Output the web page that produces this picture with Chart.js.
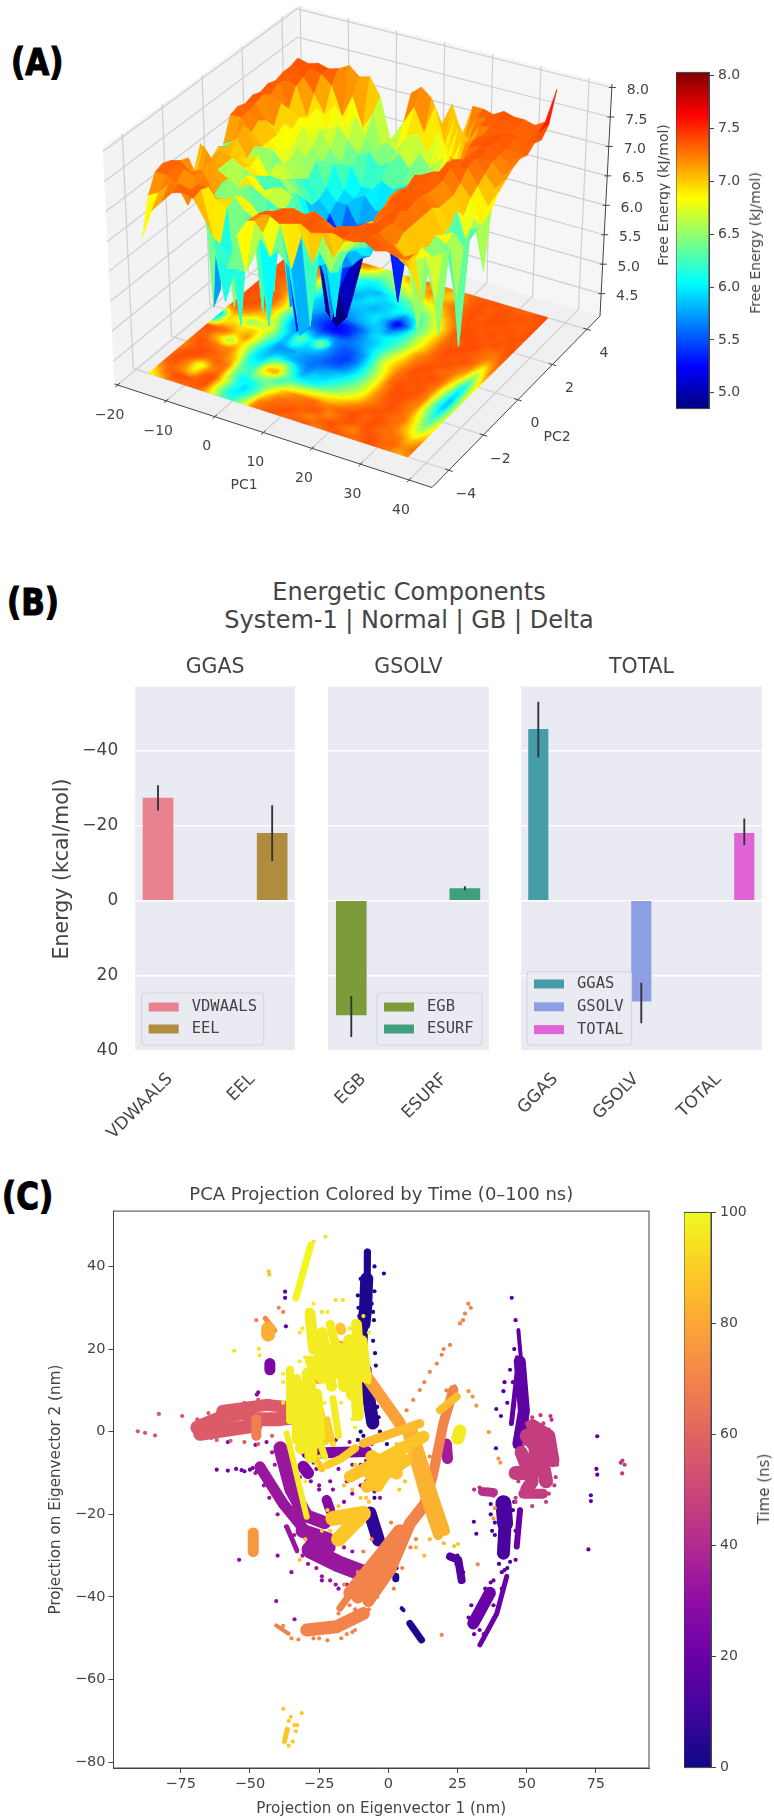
<!DOCTYPE html>
<html>
<head>
<meta charset="utf-8">
<title>Free energy landscape, energetic components and PCA projection</title>
<script src="https://cdn.jsdelivr.net/npm/chart.js@4"></script>
<style>
html, body { margin: 0; background: #fff; }
body { position: relative; width: 774px; height: 1818px; overflow: hidden; font-family: 'DejaVu Sans', sans-serif; }
canvas { position: absolute; }
.tag { position: absolute; font: bold 31px 'DejaVu Sans', sans-serif; color: #000; -webkit-text-stroke: 1px #000; transform: scaleY(1.2); transform-origin: 0 0; }
.note { position: absolute; color: #444; white-space: nowrap; }
.up { transform: translate(-50%, -50%) rotate(-90deg); }
.mid { transform: translateX(-50%); text-align: center; }
</style>
</head>
<body>
<div class="tag" style="left:11px;top:40px">(A)</div>
<div class="tag" style="left:7px;top:580px">(B)</div>
<div class="tag" style="left:2px;top:1174px">(C)</div>

<canvas id="surface" width="670" height="560" style="left:0;top:0"></canvas>
<canvas id="energyBar" width="98" height="361" style="left:676px;top:60px"></canvas>
<div class="note up" style="left:755px;top:243px;font-size:14px">Free Energy (kJ/mol)</div>

<div class="note mid" style="left:409px;top:578px;font-size:24px;line-height:28px">Energetic Components<br>System-1 | Normal | GB | Delta</div>
<canvas id="ggas" width="300" height="530" style="left:0;top:640px"></canvas>
<canvas id="gsolv" width="175" height="530" style="left:327.7px;top:640px"></canvas>
<canvas id="total" width="293" height="530" style="left:480.7px;top:640px"></canvas>

<canvas id="pca" width="680" height="638" style="left:0;top:1180px"></canvas>
<canvas id="timeBar" width="90" height="580" style="left:684px;top:1200px"></canvas>
<div class="note up" style="left:764px;top:1489px;font-size:15px">Time (ns)</div>

<script>
// ---- free energy landscape ----
const pc1Grid = [-17.5, -15.35, -13.2, -11.05, -8.9, -6.75, -4.6, -2.45, -0.3, 1.85, 4, 6.15, 8.3, 10.45, 12.6, 14.75, 16.9, 19.05, 21.2, 23.35, 25.5, 27.65, 29.8, 31.95, 34.1, 36.25];
const pc2Grid = [-4, -3.62, -3.24, -2.86, -2.48, -2.1, -1.71, -1.33, -0.95, -0.57, -0.19, 0.19, 0.57, 0.95, 1.33, 1.71, 2.1, 2.48, 2.86, 3.24, 3.62, 4];
// one row per PC2 value, kJ/mol
const freeEnergyGrid = [
  [6.4,6.9,7.1,7.3,7.35,7.3,7.0,6.4,6.3,6.9,7.2,7.35,7.4,7.3,7.35,7.4,7.3,7.35,7.4,7.35,7.35,7.4,7.3,7.35,7.3,7.3],
  [7.0,7.1,7.3,7.35,7.3,7.35,6.6,5.6,6.2,6.2,7.1,7.3,7.35,7.4,7.3,7.35,7.4,7.3,7.4,7.35,7.3,7.4,7.3,7.35,7.2,7.3],
  [7.3,7.3,7.2,6.9,7.3,7.3,6.4,6.2,6.6,6.3,6.8,7.2,7.3,7.35,7.3,7.4,7.3,7.2,7.3,7.35,7.4,7.35,7.2,7.0,6.9,6.4],
  [7.35,7.3,7.35,7.3,7.35,7.0,6.9,5.0,6.8,6.6,6.3,6.9,6.2,6.8,6.4,6.9,6.6,6.9,7.0,7.3,7.35,7.35,7.1,6.9,5.8,6.9],
  [7.3,7.35,7.2,7.3,6.9,6.9,7.0,6.8,6.7,5.0,6.3,6.1,5.0,5.2,6.5,6.2,6.6,6.8,7.0,7.2,7.35,7.3,7.2,6.8,6.9,6.2],
  [6.9,7.3,6.9,7.35,7.0,5.0,6.9,6.8,6.6,6.4,6.2,4.9,5.2,6.1,6.2,6.1,6.5,6.7,6.9,7.3,7.35,7.4,7.2,6.9,6.8,6.9],
  [7.0,6.9,7.35,7.1,7.0,6.9,7.0,4.9,6.7,6.6,6.1,6.2,6.0,6.3,5.2,6.4,6.5,6.9,7.0,7.3,7.35,7.3,7.2,6.8,5.4,6.9],
  [6.8,7.3,7.0,7.1,5.2,7.0,6.8,6.7,6.6,5.0,5.2,6.0,6.1,5.0,6.2,6.3,6.6,6.8,7.1,7.35,7.4,7.35,7.2,6.9,6.8,5.9],
  [7.2,7.0,7.2,7.1,7.0,6.9,6.7,6.8,6.5,6.2,6.1,5.9,5.4,6.0,6.1,6.2,6.5,6.8,7.2,7.35,7.3,7.35,7.2,6.8,6.9,6.7],
  [4.3,7.1,6.9,7.0,6.9,6.8,4.9,6.7,6.6,6.0,5.9,5.7,5.8,5.9,6.0,6.1,6.6,6.7,7.2,7.3,7.4,7.3,7.1,6.8,4.9,6.9],
  [4.5,7.0,7.2,6.9,7.0,6.7,6.7,6.5,6.3,5.9,6.1,5.6,5.5,5.6,5.8,6.1,6.2,6.8,7.1,7.4,7.3,7.3,7.1,7.0,6.5,6.8],
  [6.9,7.0,7.3,7.0,5.3,6.8,6.6,6.4,5.9,5.7,5.0,5.0,5.4,5.6,5.7,6.3,6.2,6.9,6.9,7.3,7.4,7.3,7.1,6.8,6.8,6.0],
  [7.3,7.3,7.1,6.9,6.9,6.7,6.5,6.2,5.7,4.4,4.2,4.4,5.4,5.6,5.8,5.9,6.5,6.6,7.0,6.9,7.3,7.4,7.2,7.0,6.6,6.9],
  [7.35,7.3,7.2,6.9,6.8,6.7,6.4,6.0,5.6,4.6,4.4,4.7,5.4,5.7,5.7,6.1,6.3,6.6,6.8,7.1,7.35,7.3,7.35,7.1,6.8,7.1],
  [7.3,7.35,7.1,6.9,6.7,6.8,6.3,6.0,5.8,5.5,5.3,5.5,5.6,5.5,5.6,5.7,6.3,6.5,6.9,6.9,7.3,7.35,7.4,7.2,7.0,7.2],
  [7.35,7.4,6.9,7.0,6.7,6.5,6.5,6.1,5.9,5.9,5.6,5.7,5.8,5.6,4.5,5.6,6.0,6.7,6.7,7.2,7.1,7.35,7.3,7.3,7.1,7.3],
  [7.3,7.3,7.2,6.8,6.9,6.6,6.4,6.4,6.0,5.9,6.0,5.8,5.8,5.9,5.6,5.9,6.4,6.5,7.0,6.9,7.3,7.35,7.4,7.3,7.2,7.35],
  [7.35,7.4,7.0,6.9,6.7,6.8,6.5,6.3,6.3,6.0,6.0,6.2,6.1,6.2,6.3,6.2,6.7,6.9,6.7,7.2,7.35,7.4,7.35,7.3,7.3,7.3],
  [7.3,7.35,7.3,6.8,7.0,6.7,6.8,6.6,6.4,6.5,6.3,6.4,6.6,6.4,6.7,6.5,6.9,6.7,7.1,7.0,7.3,7.35,7.4,7.35,7.3,7.4],
  [7.35,7.35,7.35,7.1,6.8,7.0,6.7,6.9,6.6,6.4,6.6,6.5,6.8,6.9,6.6,7.0,6.7,7.2,7.0,7.3,7.35,7.3,7.35,7.3,7.35,7.35],
  [7.35,7.35,7.4,7.35,7.2,6.7,7.1,6.6,6.9,6.2,6.6,6.9,7.2,6.8,7.3,6.7,7.2,6.9,7.3,7.35,7.35,7.4,7.3,7.35,7.3,7.5],
  [7.4,7.35,7.4,7.35,7.4,7.5,7.35,7.4,7.1,6.4,6.3,7.3,7.45,7.3,6.9,7.3,6.8,7.35,7.35,7.3,7.4,7.35,7.35,7.3,7.4,8.0]
];
// filled contour projected on the floor
const floorContourGrid = [
  [6.7,7.0,7.3,7.3,7.35,7.3,6.9,6.3,6.2,6.6,7.25,7.35,7.4,7.3,7.35,7.4,7.25,7.3,7.4,7.35,7.3,7.4,7.35,7.25,7.1,7.2],
  [7.0,7.3,7.4,7.4,7.35,7.4,6.7,6.1,6.0,6.4,7.2,7.3,7.35,7.4,7.3,7.2,7.35,7.4,7.3,7.2,7.35,7.4,7.3,7.35,7.2,7.3],
  [7.3,7.35,7.2,6.9,7.35,7.4,6.8,6.2,5.9,6.2,6.9,7.25,7.3,7.3,7.35,7.4,7.2,7.3,7.4,7.35,7.4,7.3,7.3,7.25,7.0,7.2],
  [7.35,7.4,7.2,6.7,7.2,7.3,6.5,6.0,6.1,6.3,6.6,7.0,7.2,7.25,7.3,7.2,7.3,7.35,7.4,7.3,7.4,7.35,7.25,7.0,6.7,7.0],
  [7.3,7.4,7.4,7.3,7.35,7.25,6.4,6.2,6.6,6.5,6.2,6.5,6.6,6.7,6.8,6.9,7.0,7.2,7.3,7.4,7.35,7.3,7.3,6.9,6.4,6.9],
  [7.2,7.35,7.4,7.35,7.25,7.0,6.2,6.1,7.0,7.2,6.4,6.0,6.0,6.1,6.3,6.5,6.7,6.9,7.2,7.3,7.4,7.35,7.2,6.7,6.2,6.8],
  [7.3,7.4,7.3,7.2,7.2,6.7,6.0,5.9,6.5,6.6,6.1,5.7,5.9,5.9,6.1,6.3,6.5,6.8,7.2,7.35,7.4,7.3,7.2,6.5,6.0,6.7],
  [7.35,7.3,7.0,6.5,7.0,6.6,6.0,5.8,5.9,5.8,5.7,5.6,5.7,5.8,5.9,6.1,6.4,6.8,7.2,7.4,7.4,7.35,7.25,6.4,5.8,6.7],
  [7.4,7.35,7.3,7.0,7.2,6.7,6.1,5.7,5.7,5.8,5.7,5.6,5.5,5.5,5.7,6.0,6.4,6.8,7.3,7.4,7.35,7.4,7.2,6.5,5.8,6.7],
  [6.0,6.9,7.0,6.9,7.0,6.7,6.3,5.8,6.2,5.9,5.9,5.7,5.5,5.4,5.6,6.0,6.5,6.9,7.3,7.35,7.4,7.35,7.25,6.6,5.9,6.8],
  [5.8,7.0,6.8,6.5,6.6,6.8,6.2,5.8,6.4,6.0,6.6,5.7,5.5,5.5,5.7,6.1,6.7,7.0,7.25,7.4,7.35,7.4,7.3,6.8,6.0,6.9],
  [7.2,7.3,7.2,7.0,7.0,6.5,5.9,5.7,5.8,5.6,5.7,5.6,5.6,5.7,5.9,6.2,6.6,6.9,7.2,7.35,7.4,7.3,7.3,7.0,6.3,7.0],
  [7.35,7.4,7.35,7.2,6.9,6.3,5.8,5.6,5.5,5.3,5.2,5.3,5.6,5.8,5.9,6.1,6.4,6.8,7.2,7.3,7.35,7.4,7.3,7.2,6.6,7.2],
  [7.4,7.35,7.4,7.3,7.0,6.4,5.9,5.7,5.5,5.3,5.3,5.4,5.6,5.9,6.0,6.1,6.3,6.7,7.0,7.3,7.4,7.35,7.4,7.3,6.9,7.3],
  [7.4,7.4,7.35,7.3,6.9,6.3,5.9,5.8,5.6,5.6,5.7,5.8,5.9,5.9,5.6,5.9,6.3,6.7,7.0,7.3,7.4,7.4,7.35,7.3,7.2,7.35],
  [7.4,7.4,7.35,7.2,6.7,6.2,5.9,5.8,5.8,5.8,5.8,5.9,6.0,5.7,5.1,5.6,6.3,6.6,7.0,7.3,7.35,7.4,7.4,7.3,7.3,7.4],
  [7.4,7.35,7.3,7.2,6.9,6.4,6.0,5.9,5.8,5.9,5.9,5.8,5.9,6.0,5.7,6.0,6.4,6.7,7.0,7.35,7.4,7.4,7.35,7.4,7.35,7.4],
  [7.35,7.4,7.35,7.3,7.0,6.6,6.2,6.0,5.8,5.8,6.0,5.9,5.9,6.1,6.2,6.3,6.6,6.9,7.2,7.35,7.4,7.35,7.4,7.35,7.4,7.35],
  [7.4,7.35,7.4,7.3,7.2,6.8,6.4,6.1,6.0,5.9,5.8,6.0,6.2,6.3,6.5,6.7,6.9,7.2,7.3,7.4,7.35,7.4,7.35,7.4,7.35,7.4],
  [7.35,7.4,7.35,7.3,7.2,7.0,6.7,6.3,6.1,6.0,6.2,6.4,6.6,6.8,7.0,7.0,7.2,7.3,7.35,7.4,7.35,7.4,7.4,7.35,7.35,7.4],
  [7.4,7.35,7.4,7.35,7.3,7.2,7.0,6.8,6.6,6.4,6.5,6.8,6.9,7.0,7.25,7.0,7.0,7.2,7.35,7.4,7.35,7.4,7.35,7.4,7.35,7.4],
  [7.4,7.35,7.4,7.35,7.4,7.4,7.3,7.3,7.0,6.6,6.5,7.2,7.35,7.3,7.0,7.25,7.0,7.3,7.35,7.35,7.4,7.35,7.35,7.3,7.4,7.4]
];
const pc1Ticks = [-20, -10, 0, 10, 20, 30, 40];
const pc2Ticks = [-4, -2, 0, 2, 4];
const zTicks = [4.5, 5, 5.5, 6, 6.5, 7, 7.5, 8];
const energyBarTicks = [5, 5.5, 6, 6.5, 7, 7.5, 8];

// ---- energetic components (kcal/mol, negative is up) ----
const ggasNames = ['VDWAALS', 'EEL'];
const ggasValues = [-27.3, -17.9];
const ggasErrors = [[-30.6, -24.1], [-25.3, -10.6]];
const gsolvNames = ['EGB', 'ESURF'];
const gsolvValues = [30.5, -3.2];
const gsolvErrors = [[25.5, 36.3], [-3.7, -2.8]];
const totalNames = ['GGAS', 'GSOLV', 'TOTAL'];
const totalValues = [-45.6, 26.8, -17.9];
const totalErrors = [[-52.9, -38.2], [22, 32.6], [-21.8, -14.9]];
const energyTicks = [-40, -20, 0, 20, 40];

// ---- PCA projection: dense strands and loose frames, coloured by time (ns) ----
const strandTimes = [3, 3, 4, 5, 5, 6, 4, 4, 4, 12, 12, 14, 17, 17, 18, 20, 20, 20, 25, 25, 25, 28, 33, 33, 33, 33, 33, 33, 33, 35, 42, 47, 47, 47, 47, 47, 47, 57, 57, 57, 57, 68, 70, 70, 70, 70, 70, 70, 70, 72, 76, 78, 80, 80, 82, 83, 83, 85, 86, 87, 87, 88, 88, 88, 88, 88, 88, 88, 90, 90, 97, 97, 97, 97, 97, 97, 97, 97, 97, 97, 97, 97, 97, 97, 97, 97, 97, 99, 97, 97, 97, 90];
const strandPaths = [
  [[-7.5, 43.5], [-7.6, 38]],
  [[-7.8, 37], [-8.2, 30], [-8.8, 26]],
  [[-9.3, 26], [-9.5, 20]],
  [[-8, 15], [-8.6, 8]],
  [[-7.7, 10.8], [-5.6, 2.1]],
  [[-6.6, -19.7], [-3.6, -26.2]],
  [[7.8, -46.4], [12, -50.4]],
  [[4.8, -42.7], [5.5, -43.2]],
  [[2.7, -35], [2.7, -35.6]],
  [[41.6, -17.3], [42.2, -22.2]],
  [[42.2, -22.2], [41.6, -29.4]],
  [[22.3, -30.2], [25.3, -31], [26.5, -35.9]],
  [[47, 24.6], [48, 17]],
  [[47.5, 17], [49, 5], [47, -3]],
  [[46.5, 14], [44.5, 2]],
  [[47.6, -19], [46.4, -27.8]],
  [[42.8, -35], [39.2, -44], [33.1, -51.6]],
  [[36.7, -39], [30.7, -46.4]],
  [[-29.5, -5.2], [-7.8, -4.8]],
  [[-42.8, 16.5], [-42.8, 15]],
  [[-30.7, -8.5], [-29, -10]],
  [[-22.3, -16.5], [-21, -19]],
  [[-39, -4], [-35, -14], [-30, -20]],
  [[-46.4, -8.5], [-38, -17.4], [-30, -24]],
  [[-31, -20], [-23, -22]],
  [[-31, -24], [-22, -26]],
  [[-28, -27], [-21, -28]],
  [[-28.3, -28.6], [-18, -32], [-9, -34.3]],
  [[-36.7, -23], [-33.1, -28.6]],
  [[21, -3], [21.4, -6.5]],
  [[34, -14.5], [38, -14.7]],
  [[52, 1.5], [58, -1], [59.5, -7]],
  [[50, -1], [55, -5], [57, -12]],
  [[48, -5], [52, -12], [50, -14]],
  [[54, 0], [53, -8]],
  [[48.8, -15], [55.9, -15]],
  [[46, -10], [52, -10]],
  [[-69, 1], [-60, 3.5], [-50, 5]],
  [[-68, -0.5], [-58, 0.5], [-48, 1.5]],
  [[-60, 5], [-44, 6.5], [-37, 6]],
  [[-50, 3], [-40, 3], [-34, 3.5]],
  [[-47.7, 3], [-47.7, -1]],
  [[-13.9, -39], [-3, -30], [4, -24]],
  [[-11, -40], [-1, -31], [6, -24]],
  [[-7.2, -41], [0.6, -33.5], [7.8, -22.2], [12.7, -18]],
  [[12.7, -18], [16, -10.9], [19.9, 2], [23.5, 10.1]],
  [[-17.5, -42.7], [-9, -35]],
  [[-29.5, -48], [-18.7, -47.2], [-9, -44]],
  [[-40.5, -46.9], [-36, -48.9]],
  [[-44.5, 27.5], [-41, 24.5]],
  [[-48.8, -24.5], [-48.8, -29]],
  [[-7.8, 13.3], [4.2, 2]],
  [[-17.5, 20.6], [-16, 17]],
  [[-27, 15.3], [-25.5, 13]],
  [[-43.4, 25], [-43.4, 23.5]],
  [[6.6, 0.4], [13, -15], [18, -25]],
  [[9, 0], [16, -15], [20.5, -24]],
  [[-9, -2.8], [11.4, 2]],
  [[18.7, 5.2], [24.7, 8.5]],
  [[-13.9, -10.9], [12.7, -1.2]],
  [[-7.8, -13.3], [6.6, -6.9]],
  [[-7, -10], [2, -6]],
  [[-6, -6], [3, -10]],
  [[-4, -13], [5, -4]],
  [[-20, -21], [-9, -19.8], [-18, -26]],
  [[-36.5, -72], [-37.5, -75]],
  [[-17.3, 25.2], [-17, 24.6]],
  [[-26, -7], [-24, -9]],
  [[-22, -8], [-17, -6.5], [-12, -4]],
  [[-25, 5], [-23, -2]],
  [[-35.5, 15], [-35.5, 2.8]],
  [[-36.7, -0.4], [-29.5, -20.6]],
  [[-32, 11], [-31, 1], [-31.5, -4]],
  [[-29, 14], [-27.5, 4], [-28, -6]],
  [[-26, 9], [-25, -1]],
  [[-28, 17], [-24, 13]],
  [[-25, 19], [-21, 13]],
  [[-22, 20], [-19, 14]],
  [[-24, 24], [-20.5, 11]],
  [[-21, 26], [-18, 18]],
  [[-17, 20], [-16, 11]],
  [[-14, 22], [-13, 9]],
  [[-12, 16], [-11, 4]],
  [[-11.5, 26], [-10.5, 16]],
  [[-9.5, 22], [-8, 13]],
  [[-28.3, 28.7], [-27, 20]],
  [[25.9, 0.2], [25.1, -1.6]],
  [[-28, 45.2], [-33.4, 32.4]],
  [[-20, 8], [-18, -1]],
  [[-33, 13], [-33.5, -2]],
  [[-25, -2], [-23, -6]],
  [[-22, 3], [-20, -3]]
];
const frameTimes = [3, 12, 15, 18, 20, 22, 28, 30, 33, 42, 45, 47, 55, 57, 70, 72, 75, 85, 88, 95, 97];
const frameCoords = [
  [[-7.5, 36.4], [-1.6, 38.3], [-5, 34], [-10.8, 30], [-5.5, 29], [-4.5, 16], [-5, 9], [-3, 0], [-0.5, -3], [-5, -16], [-2, -29], [3, -33], [2.5, -35], [-11, 33], [-5, 40], [-10.5, 28], [-5.2, 27], [-6, 31], [-10, 37], [-11, 20], [-5.5, 22], [-4.8, 19], [-11.5, 12], [-4, 6], [-3.5, 3.5], [-10, 0], [-11, -2], [-9, -1]],
  [[38.9, -4], [30.9, -21.8], [31.8, -24.7], [25, -30], [26.4, -36], [24.6, -32], [27, -34], [44, -31.5], [38.5, -25], [37, -20], [38.5, -22], [37.5, -24], [45, -19], [46, -24], [40, -32], [43, -33], [42, -33.5], [37, -17.5], [45.5, -17]],
  [[-37.3, 33.9], [-37.3, 32.4], [-37, 25.5], [41.6, 9.8], [40.7, 3.8], [39, 5.5], [42, 12], [43, 7], [44, 15], [45.5, 20]],
  [[44.6, 32.4], [46, 27], [75.5, -1.1], [75.2, -9], [75.5, -10.4], [73.2, -15.4], [73.2, -16.8], [46.5, 18], [45, 12], [50, 3]],
  [[72.3, -28.5], [32, -44], [33, -48], [35, -38], [38, -36], [41, -34], [46, -31], [49, -10], [35, -40], [37, -36.5], [33, -43], [30, -42], [29, -45], [31, -49], [38, -42], [41, -38], [34.5, -49]],
  [[-62, -9.2], [-58, -9.4], [-55, -9], [-53, -9.3], [-50, -9.2], [-47.5, -9.6], [-52, -9.6], [-49, -8.8]],
  [[-58, -2.5], [-48, -3.2], [-44, -2.5], [-47.5, 9], [-25, -13], [-20, -14], [-16, -17], [-13, -15], [-9, -10], [-32, -11], [-27, -7.5], [-22, -8], [-18, -9], [-13, -8], [-8, -7], [-6, -3], [-24, -2.5], [-19, -2], [-14, -2.5], [-10, -8], [-28, -12], [-25, -14], [-23, -21], [-19.5, -21], [-26, -9], [-21, -12], [-15, -12], [-10, -13], [-8, -12], [-5, -14.5], [-3, -16]],
  [[-33.9, -45.4], [-40.5, -41], [-53.9, -31], [-47, 9.5], [-40, -30], [-35, -34], [-24, -36], [-18, -38]],
  [[-48, -10], [-45, -13], [-43, -16], [-40, -20], [-37, -23], [-34, -25], [-33, -29], [-31, -30], [-29, -32], [-26, -33], [-24, -35], [-21, -36], [-19, -37], [-15, -37], [-11, -37.5], [-13, -29], [-16, -28], [-20, -28.5], [-42, -5], [-41, -8], [-36, -19], [-32, -20], [-34, -18]],
  [[58.6, 3.8], [59, 2.9], [36, -14], [38, -15.5], [31, -14], [33, -13.5]],
  [[84, -7.5], [85.4, -8], [84.5, -10.1], [84.6, -7]],
  [[60, -5], [61, -8], [60.5, -11], [59, -2], [48, -6], [47, -12], [57, -17], [52, -18], [46, -16], [58, -15], [46, -17], [50, 2], [55, 4], [52, 3.5], [58, 0.5], [47, -9], [49, -3], [60, -13], [56, 2]],
  [[-90.5, 0.1], [-87.9, -0.3], [-84.3, -0.9], [-82.9, 4.3], [-74.5, 3.8]],
  [[-70, 1], [-69, 3], [-69, -1], [-65, 4.5], [-60, 5.5], [-52, 7], [-47, 7.7], [-43, 7.5], [-38, 7], [-35, 6.5], [-32, 1], [-33, 5], [-62, -2], [-57, -2.2], [-52, -2.5], [-47, -3], [-42, -1], [-64, -1.5], [-66, 3], [-55, 6], [-31, 4]],
  [[19.3, -49.2], [32.3, -32.1], [-47.7, 27], [-39.6, 30], [-38, 29], [6.6, 5.2], [9, 7.7], [11.4, 10.1], [15, 14.5], [17.5, 16.5], [19.3, 18.6], [22.3, 21], [25.9, 26.2], [27.7, 28.6], [28.9, 31], [27, 27], [20, 20], [13, 12], [29.8, 30], [-18, -44], [-14, -42], [-12, -43], [-7, -43], [-4, -40], [2, -38], [5, -33], [8, -28], [10, -26], [-3, -33], [-11, -34], [-27, -50], [-22, -50.5], [-17, -50], [-13, -48.5], [13, -14], [15, -6], [19, 6], [21, 10], [24, 11], [-16, -37], [-6, -26], [1, -22], [-9, -29]],
  [[-38, -47], [-35, -50], [-32.5, -50.3], [-25, -50], [-15, -49], [-12, -48]],
  [[29, 9.8], [31.8, 6.3], [36.3, -0.1], [30.5, 8.5], [39.8, -6.5], [40.5, -7.5], [38.5, -18.5], [38, -21]],
  [[-32, -31], [13, -30], [-30, -26], [10, -28], [15, -26], [20, -27]],
  [[-43.2, 38.8], [-43, 38], [23.8, -27.7], [25.2, -27.2], [-37.9, -67.1], [-31.3, -68.1], [-35.2, -69], [-33.4, -72.5], [-32.9, -71], [-36, -76], [-34.5, -75], [-36, -70], [-34, -71], [-3, -14], [-8, -16], [-5, -11], [0, -11], [4, -14], [6, -12], [8, -5], [-13, -14], [-16, -13], [-11, -19], [-7, -17], [-18, -18], [-22, -19], [-24, -24], [-2, -2], [3, -3], [9, -3], [-12, -8], [-10, -16], [-14, -23], [-21, -24]],
  [[-55.7, 19.6], [-46.8, 20.1], [-19, 31.9], [-16.4, 31.9], [-29, 29.5], [-22.7, 47.2], [-27, 46], [-24, 29], [-32, 24], [-46.5, 18.5], [-38, 12], [-38, 7]],
  [[-34, 8], [-33, -2], [-30, -12], [-26, -8], [-23, 7], [-22, 16], [-19, 22], [-14, 25], [-9, 28], [-7, 24], [-8, 18], [-7, 12], [-13, 3], [-17, 7], [-19, 4], [-20, -3], [-25, -6], [-31, 25], [-27, 31], [-22, 29], [-32, 17], [-38, 14], [-20, 6], [-24, -4], [-30, 18], [-33, 4], [-12, 1]]
];
const eigen1Ticks = [-75, -50, -25, 0, 25, 50, 75];
const eigen2Ticks = [-80, -60, -40, -20, 0, 20, 40];
const timeTicks = [0, 20, 40, 60, 80, 100];

// ---- shared styling ----
const FONT = "'DejaVu Sans', sans-serif";
const TEXT = '#444';
Chart.defaults.font.family = FONT;
Chart.defaults.color = TEXT;
Chart.defaults.animation = false;
Chart.defaults.responsive = false;
Chart.defaults.plugins.legend.display = false;
Chart.defaults.plugins.tooltip.enabled = false;

const JET = ['#00007f', '#0000ff', '#007fff', '#00ffff', '#7fff7f', '#ffff00', '#ff7f00', '#ff0000', '#7f0000'];
const PLASMA = ['#0d0887', '#41049d', '#6a00a8', '#8f0da4', '#b12a90', '#cc4778', '#e16462', '#f2844b', '#fca636', '#fcce25', '#f0f921'];

function hexToRgb(h) {
    return [1, 3, 5].map(i => parseInt(h.substr(i, 2), 16));
}
function sampleMap(stops, f) {
    f = Math.min(1, Math.max(0, f));
    const p = f * (stops.length - 1), i = Math.min(stops.length - 2, Math.floor(p));
    const a = hexToRgb(stops[i]), b = hexToRgb(stops[i + 1]);
    const c = a.map((v, k) => Math.round(v + (b[k] - v) * (p - i)));
    return `rgb(${c[0]},${c[1]},${c[2]})`;
}

// ---- 3D box of the surface plot, laid out on a flat view plane ----
const PC1_LIM = [-20.65, 44.73], PC2_LIM = [-4.98, 4.756], Z_LIM = [4.12, 8.06];
const VIEW_W = 670, VIEW_H = 560;
// corners: (pc1 min, pc2 min), (pc1 max, pc2 min), (pc1 max, pc2 max), (pc1 min, pc2 max)
const FLOOR = [[114.5, 384], [432, 487.5], [600, 316], [301, 228.6]];
const CEILING = [[102.7, 148], [432, 241], [612, 84], [297, 5.4]];

function bilinear(q, u, v) {
    const px = k => q[0][k] * (1 - u) * (1 - v) + q[1][k] * u * (1 - v) + q[2][k] * u * v + q[3][k] * (1 - u) * v;
    return [px(0), px(1)];
}
function project(x, y, z) {
    const u = (x - PC1_LIM[0]) / (PC1_LIM[1] - PC1_LIM[0]);
    const v = (y - PC2_LIM[0]) / (PC2_LIM[1] - PC2_LIM[0]);
    const w = (z - Z_LIM[0]) / (Z_LIM[1] - Z_LIM[0]);
    const a = bilinear(FLOOR, u, v), b = bilinear(CEILING, u, v);
    return { x: a[0] + (b[0] - a[0]) * w, y: a[1] + (b[1] - a[1]) * w };
}
function jetColor(z) {
    return sampleMap(JET, (z - 4.85) / (8.03 - 4.85));
}

const surfacePoints = [], floorPoints = [];
freeEnergyGrid.forEach((row, j) => row.forEach((z, i) => {
    surfacePoints.push(project(pc1Grid[i], pc2Grid[j], z));
    floorPoints.push(project(pc1Grid[i], pc2Grid[j], Z_LIM[0]));
}));

function polygon(ctx, pts) {
    ctx.beginPath();
    pts.forEach((p, i) => i ? ctx.lineTo(p.x, p.y) : ctx.moveTo(p.x, p.y));
    ctx.closePath();
}

const surfacePainter = {
    id: 'surfacePainter',
    beforeDatasetsDraw(chart) {
        const ctx = chart.ctx, sx = chart.scales.x, sy = chart.scales.y;
        const toPx = p => ({ x: sx.getPixelForValue(p.x), y: sy.getPixelForValue(p.y) });
        const at = (x, y, z) => toPx(project(x, y, z));
        const [x0, x1] = PC1_LIM, [y0, y1] = PC2_LIM, [z0, z1] = Z_LIM;

        ctx.save();
        // panes
        ctx.fillStyle = '#f3f3f3';
        polygon(ctx, [at(x0, y0, z0), at(x0, y1, z0), at(x0, y1, z1), at(x0, y0, z1)]); ctx.fill();
        ctx.fillStyle = '#f6f6f6';
        polygon(ctx, [at(x0, y1, z0), at(x1, y1, z0), at(x1, y1, z1), at(x0, y1, z1)]); ctx.fill();
        ctx.fillStyle = '#f0f0f0';
        polygon(ctx, [at(x0, y0, z0), at(x1, y0, z0), at(x1, y1, z0), at(x0, y1, z0)]); ctx.fill();

        // grid lines on the three panes
        const seg = (a, b) => { ctx.beginPath(); ctx.moveTo(a.x, a.y); ctx.lineTo(b.x, b.y); ctx.stroke(); };
        ctx.strokeStyle = '#cfcfcf';
        ctx.lineWidth = 1.2;
        pc1Ticks.forEach(t => { seg(at(t, y0, z0), at(t, y1, z0)); seg(at(t, y1, z0), at(t, y1, z1)); });
        pc2Ticks.forEach(t => { seg(at(x0, t, z0), at(x1, t, z0)); seg(at(x0, t, z0), at(x0, t, z1)); });
        zTicks.forEach(t => { seg(at(x0, y0, t), at(x0, y1, t)); seg(at(x0, y1, t), at(x1, y1, t)); });

        // axis lines and ticks
        ctx.strokeStyle = '#444';
        ctx.lineWidth = 1;
        seg(at(x0, y0, z0), at(x1, y0, z0));
        seg(at(x1, y0, z0), at(x1, y1, z0));
        seg(at(x1, y1, z0), at(x1, y1, z1));
        pc1Ticks.forEach(t => seg(at(t, y0 - 0.12, z0), at(t, y0 + 0.12, z0)));
        pc2Ticks.forEach(t => seg(at(x1 - 0.8, t, z0), at(x1 + 0.8, t, z0)));
        zTicks.forEach(t => { const p = at(x1, y1, t); seg({ x: p.x - 3, y: p.y }, { x: p.x + 4, y: p.y }); });

        // floor contour, smoothed inside every grid cell
        const nx = pc1Grid.length, ny = pc2Grid.length;
        const floorMeta = chart.getDatasetMeta(1).data;
        const SUB = 4;
        ctx.lineWidth = 0.7;
        for (let j = ny - 2; j >= 0; j--) {
            for (let i = 0; i < nx - 1; i++) {
                const a = floorContourGrid[j][i], b = floorContourGrid[j][i + 1];
                const c = floorContourGrid[j + 1][i + 1], d = floorContourGrid[j + 1][i];
                const pa = floorMeta[j * nx + i], pb = floorMeta[j * nx + i + 1];
                const pc = floorMeta[(j + 1) * nx + i + 1], pd = floorMeta[(j + 1) * nx + i];
                const mix = (u, v) => ({
                    x: pa.x * (1 - u) * (1 - v) + pb.x * u * (1 - v) + pc.x * u * v + pd.x * (1 - u) * v,
                    y: pa.y * (1 - u) * (1 - v) + pb.y * u * (1 - v) + pc.y * u * v + pd.y * (1 - u) * v
                });
                for (let s = 0; s < SUB; s++) {
                    for (let r = 0; r < SUB; r++) {
                        const u = (s + 0.5) / SUB, v = (r + 0.5) / SUB;
                        const val = a * (1 - u) * (1 - v) + b * u * (1 - v) + c * u * v + d * (1 - u) * v;
                        ctx.fillStyle = ctx.strokeStyle = jetColor(val);
                        polygon(ctx, [mix(s / SUB, r / SUB), mix((s + 1) / SUB, r / SUB), mix((s + 1) / SUB, (r + 1) / SUB), mix(s / SUB, (r + 1) / SUB)]);
                        ctx.fill();
                        ctx.stroke();
                    }
                }
            }
        }

        // surface cells painted from the far corner towards the viewer
        const surfMeta = chart.getDatasetMeta(0).data;
        ctx.lineWidth = 0.6;
        for (let i = 0; i < nx - 1; i++) {
            for (let j = ny - 2; j >= 0; j--) {
                const z = (freeEnergyGrid[j][i] + freeEnergyGrid[j][i + 1] + freeEnergyGrid[j + 1][i] + freeEnergyGrid[j + 1][i + 1]) / 4;
                ctx.fillStyle = ctx.strokeStyle = jetColor(z);
                polygon(ctx, [surfMeta[j * nx + i], surfMeta[j * nx + i + 1], surfMeta[(j + 1) * nx + i + 1], surfMeta[(j + 1) * nx + i]]);
                ctx.fill();
                ctx.stroke();
            }
        }

        // tick labels and axis names
        ctx.fillStyle = TEXT;
        ctx.font = `14px ${FONT}`;
        ctx.textAlign = 'center';
        ctx.textBaseline = 'middle';
        const minus = s => String(s).replace('-', '\u2212');
        pc1Ticks.forEach(t => { const p = at(t, y0, z0); ctx.fillText(minus(t), p.x - 8, p.y + 30); });
        pc2Ticks.forEach(t => { const p = at(x1, t, z0); ctx.fillText(minus(t), p.x + 17, p.y + 24); });
        zTicks.forEach(t => { const p = at(x1, y1, t); ctx.fillText(t.toFixed(1), p.x + 26, p.y + 3); });
        ctx.fillText('PC1', 244, 485);
        ctx.fillText('PC2', 557, 437);
        ctx.translate(664, 195);
        ctx.rotate(-Math.PI / 2);
        ctx.fillText('Free Energy (kJ/mol)', 0, 0);
        ctx.restore();
    }
};

new Chart(document.getElementById('surface'), {
    type: 'scatter',
    data: {
        datasets: [
            { label: 'surface', data: surfacePoints, pointRadius: 0 },
            { label: 'floor', data: floorPoints, pointRadius: 0 }
        ]
    },
    options: {
        layout: { padding: 0 },
        scales: {
            x: { type: 'linear', display: false, min: 0, max: VIEW_W },
            y: { type: 'linear', display: false, min: 0, max: VIEW_H, reverse: true }
        }
    },
    plugins: [surfacePainter]
});

// ---- colour bars ----
function colorBar(id, stops, lo, hi, ticks, fmt, topPad, bottomPad, plotW) {
    const canvas = document.getElementById(id);
    new Chart(canvas, {
        type: 'bar',
        data: {
            labels: [''],
            datasets: [{
                data: [[lo, hi]],
                barPercentage: 1,
                categoryPercentage: 1,
                borderWidth: 0,
                backgroundColor(c) {
                    const area = c.chart.chartArea;
                    if (!area) return stops[0];
                    const g = c.chart.ctx.createLinearGradient(0, area.bottom, 0, area.top);
                    stops.forEach((s, i) => g.addColorStop(i / (stops.length - 1), s));
                    return g;
                }
            }]
        },
        options: {
            layout: { padding: { top: topPad, bottom: bottomPad } },
            scales: {
                x: { display: false },
                y: {
                    position: 'right',
                    min: lo,
                    max: hi,
                    afterFit(s) { s.width = canvas.width - plotW; },
                    afterBuildTicks(s) { s.ticks = ticks.map(v => ({ value: v })); },
                    grid: { display: true, drawOnChartArea: false, tickLength: 5, color: '#444' },
                    border: { color: '#444' },
                    ticks: { callback: fmt, padding: 4, font: { size: 14 }, color: TEXT }
                }
            }
        },
        plugins: [{
            id: 'barFrame',
            afterDatasetsDraw(chart) {
                const a = chart.chartArea;
                chart.ctx.strokeStyle = '#444';
                chart.ctx.lineWidth = 1;
                chart.ctx.strokeRect(a.left, a.top, a.width, a.height);
            }
        }]
    });
}
colorBar('energyBar', JET, 4.85, 8.03, energyBarTicks, v => v.toFixed(1), 12, 10, 33);
colorBar('timeBar', PLASMA, 0, 100, timeTicks, v => String(v), 11.3, 12, 27);

// ---- energetic component panels ----
const legendBox = {
    id: 'legendBox',
    afterDatasetsDraw(chart, args, opts) {
        const ctx = chart.ctx;
        ctx.save();
        ctx.fillStyle = 'rgba(234,234,242,0.85)';
        ctx.strokeStyle = '#d6d6dc';
        ctx.lineWidth = 1.2;
        ctx.beginPath();
        ctx.roundRect(opts.x, opts.y, opts.w, opts.h, 3);
        ctx.fill();
        ctx.stroke();
        ctx.font = `15.5px 'DejaVu Sans Mono', monospace`;
        ctx.textBaseline = 'middle';
        opts.names.forEach((name, i) => {
            const y = opts.first + i * opts.gap;
            ctx.fillStyle = opts.colors[i];
            ctx.fillRect(opts.x + 7, y - 4.5, 30, 9);
            ctx.fillStyle = TEXT;
            ctx.fillText(name, opts.x + 50, y);
        });
        ctx.restore();
    }
};
const panelBackground = {
    id: 'panelBackground',
    beforeDraw(chart) {
        const a = chart.chartArea;
        chart.ctx.fillStyle = '#eaeaf2';
        chart.ctx.fillRect(a.left, a.top, a.width, a.height);
    }
};

function energyPanel(id, cfg) {
    const canvas = document.getElementById(id);
    const points = cfg.values.map((v, i) => ({ x: i, y: v }));
    new Chart(canvas, {
        data: {
            datasets: [
                {
                    type: 'bar',
                    data: cfg.errors.map((e, i) => ({ x: i, y: e })),
                    backgroundColor: '#333',
                    barThickness: 1.2,
                    grouped: false,
                    order: 0
                },
                {
                    type: 'bar',
                    data: points,
                    backgroundColor: cfg.colors,
                    barThickness: cfg.barWidth,
                    grouped: false,
                    order: 1
                }
            ]
        },
        options: {
            layout: { padding: { right: canvas.width - cfg.plotW - cfg.left } },
            plugins: {
                title: {
                    display: true,
                    text: cfg.title,
                    fullSize: false,
                    font: { size: 20.5, weight: 'normal' },
                    color: TEXT,
                    padding: { top: 15, bottom: 7 }
                },
                legendBox: cfg.legend
            },
            scales: {
                x: {
                    type: 'linear',
                    offset: false,
                    min: cfg.xMin,
                    max: cfg.xMax,
                    afterBuildTicks(s) { s.ticks = cfg.tickPlaces.map(v => ({ value: v })); },
                    afterFit(s) {
                        s.height = canvas.height - 411.4;
                        s.paddingLeft = s.paddingRight = 0;
                    },
                    grid: { display: false },
                    border: { display: false },
                    ticks: {
                        autoSkip: false,
                        minRotation: 45,
                        maxRotation: 45,
                        padding: 10,
                        font: { size: 17 },
                        color: TEXT,
                        callback: (v, i) => cfg.names[i]
                    }
                },
                y: {
                    min: -57,
                    max: 40.2,
                    reverse: true,
                    afterBuildTicks(s) { s.ticks = energyTicks.map(v => ({ value: v })); },
                    afterFit(s) { s.width = cfg.left; },
                    title: cfg.axis ? {
                        display: true,
                        text: 'Energy (kcal/mol)',
                        font: { size: 20.5 },
                        color: TEXT,
                        padding: { top: 50, bottom: 0 }
                    } : { display: false },
                    grid: { color: '#fff', lineWidth: 1.6, drawTicks: false },
                    border: { display: false },
                    ticks: {
                        display: !!cfg.axis,
                        padding: 17,
                        font: { size: 17 },
                        color: TEXT,
                        callback: v => (v < 0 ? '\u2212' + (-v) : String(v))
                    }
                }
            }
        },
        plugins: [panelBackground, legendBox]
    });
}

energyPanel('ggas', {
    title: 'GGAS', names: ggasNames, values: ggasValues, errors: ggasErrors, axis: true,
    colors: ['#e9828f', '#b08c3e'], barWidth: 30, left: 135.2, plotW: 159.8,
    xMin: -0.2, xMax: 1.2, tickPlaces: [0.105, 0.825],
    legend: { x: 141.7, y: 353, w: 122, h: 52, first: 367, gap: 22, names: ggasNames, colors: ['#e9828f', '#b08c3e'] }
});
energyPanel('gsolv', {
    title: 'GSOLV', names: gsolvNames, values: gsolvValues, errors: gsolvErrors,
    colors: ['#7e9b3b', '#3ea07e'], barWidth: 30, left: 0, plotW: 160.9,
    xMin: -0.205, xMax: 1.212, tickPlaces: [0.106, 0.82],
    legend: { x: 49, y: 353, w: 105, h: 52, first: 367, gap: 22, names: gsolvNames, colors: ['#7e9b3b', '#3ea07e'] }
});
energyPanel('total', {
    title: 'TOTAL', names: totalNames, values: totalValues, errors: totalErrors,
    colors: ['#459da9', '#8e9ee3', '#e064d6'], barWidth: 19.5, left: 40, plotW: 241,
    xMin: -0.168, xMax: 2.172, tickPlaces: [0.165, 0.95, 1.75],
    legend: { x: 46, y: 331.7, w: 104.5, h: 73.3, first: 344, gap: 22.8, names: totalNames, colors: ['#459da9', '#8e9ee3', '#e064d6'] }
});

// ---- PCA scatter ----
const strandWidths = [7, 13, 11, 11, 13, 13, 7, 4, 7, 16, 13, 8, 4, 12, 5, 6, 5, 12, 11, 11, 12, 10, 14, 11, 13, 14, 11, 17, 5, 11, 9, 13, 14, 13, 15, 10, 14, 14, 14, 12, 14, 10, 13, 13, 12, 10, 7, 13, 4, 5, 11, 12, 12, 12, 14, 10, 10, 9, 8, 12, 12, 13, 13, 13, 15, 5, 10, 7, 8, 10, 8, 6, 12, 13, 12, 12, 12, 10, 11, 9, 12, 13, 12, 11, 11, 11, 13, 7, 7, 8, 7, 6];
const pcaDatasets = [];
strandPaths.forEach((path, i) => pcaDatasets.push({
    data: path.map(p => ({ x: p[0], y: p[1] })),
    showLine: true,
    pointRadius: 0,
    borderColor: sampleMap(PLASMA, strandTimes[i] / 100),
    borderWidth: strandWidths[i],
    borderCapStyle: 'round',
    borderJoinStyle: 'round',
    order: 100 - strandTimes[i]
}));
frameCoords.forEach((path, i) => pcaDatasets.push({
    data: path.map(p => ({ x: p[0], y: p[1] })),
    showLine: false,
    pointRadius: 2.1,
    pointBorderWidth: 0,
    backgroundColor: sampleMap(PLASMA, frameTimes[i] / 100),
    order: 100 - frameTimes[i]
}));

const pcaCanvas = document.getElementById('pca');
new Chart(pcaCanvas, {
    type: 'scatter',
    data: { datasets: pcaDatasets },
    options: {
        layout: { padding: { right: pcaCanvas.width - 649 } },
        plugins: {
            title: {
                display: true,
                text: 'PCA Projection Colored by Time (0\u2013100 ns)',
                fullSize: false,
                font: { size: 18, weight: 'normal' },
                color: TEXT,
                padding: { top: 4.5, bottom: 5 }
            }
        },
        scales: {
            x: {
                type: 'linear',
                min: -99.3,
                max: 94.2,
                afterBuildTicks(s) { s.ticks = eigen1Ticks.map(v => ({ value: v })); },
                afterFit(s) { s.height = 50; },
                title: {
                    display: true,
                    text: 'Projection on Eigenvector 1 (nm)',
                    font: { size: 15.2 },
                    color: TEXT,
                    padding: { top: 2, bottom: 0 }
                },
                grid: { display: true, drawOnChartArea: false, tickLength: 5, color: '#444' },
                border: { color: '#444' },
                ticks: { font: { size: 14.5 }, color: TEXT, padding: 3, autoSkip: false, maxRotation: 0, callback: v => (v < 0 ? '\u2212' + (-v) : String(v)) }
            },
            y: {
                min: -81.4,
                max: 53.4,
                afterBuildTicks(s) { s.ticks = eigen2Ticks.map(v => ({ value: v })); },
                afterFit(s) { s.width = 113.5; },
                title: {
                    display: true,
                    text: 'Projection on Eigenvector 2 (nm)',
                    font: { size: 15.2 },
                    color: TEXT,
                    padding: { top: 47, bottom: 0 }
                },
                grid: { display: true, drawOnChartArea: false, tickLength: 5, color: '#444' },
                border: { color: '#444' },
                ticks: { font: { size: 14.5 }, color: TEXT, padding: 3, autoSkip: false, callback: v => (v < 0 ? '\u2212' + (-v) : String(v)) }
            }
        }
    },
    plugins: [{
        id: 'axesFrame',
        afterDraw(chart) {
            const a = chart.chartArea;
            chart.ctx.strokeStyle = '#444';
            chart.ctx.lineWidth = 1;
            chart.ctx.strokeRect(a.left, a.top, a.width, a.height);
        }
    }]
});
</script>
</body>
</html>
